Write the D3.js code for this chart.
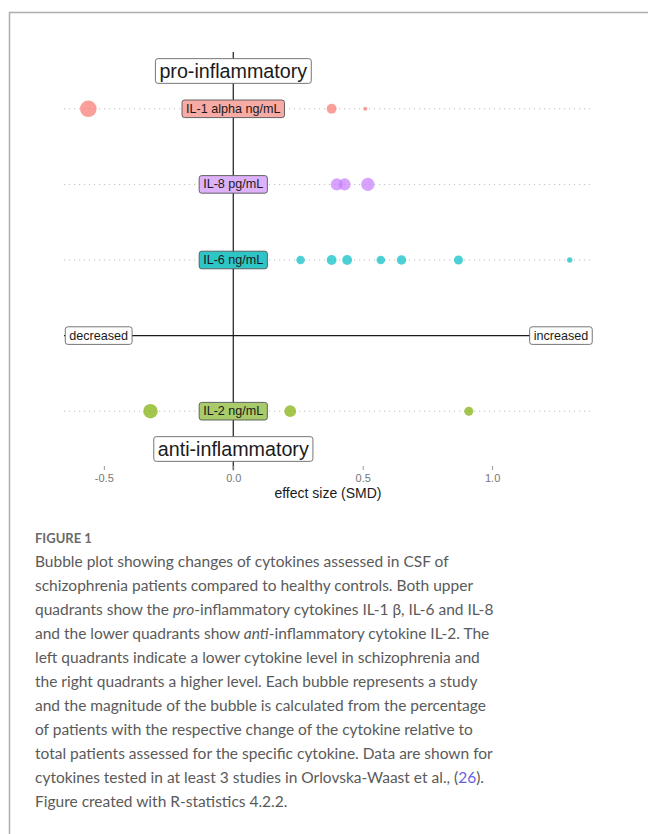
<!DOCTYPE html>
<html>
<head>
<meta charset="utf-8">
<script src="https://cdn.jsdelivr.net/npm/d3@7"></script>
<style>
body { margin: 0; background: #fff; }
svg { display: block; }
</style>
</head>
<body>
<div id="vis"></div>
<script>
// rows of the bubble plot (effect size SMD and bubble magnitude in %)
var cytokines = ["IL-1 alpha ng/mL", "IL-8 pg/mL", "IL-6 ng/mL", "IL-2 ng/mL"];
var rowLevel = [3, 2, 1, -1];
var dotColors = ["#F8766D", "#C77CFF", "#00BFC4", "#7CAE00"];
var labelFills = ["#F8AAA4", "#DDB2FA", "#2EC5C7", "#A9CB6A"];

var il1Smd = [-0.56, 0.38, 0.51];
var il1Pct = [34, 12, 2];
var il8Smd = [0.40, 0.43, 0.52];
var il8Pct = [18, 18, 22];
var il6Smd = [0.26, 0.38, 0.44, 0.57, 0.65, 0.87, 1.30];
var il6Pct = [9, 12, 12, 9, 11, 10, 3.6];
var il2Smd = [-0.32, 0.22, 0.91];
var il2Pct = [26, 17, 10];

var smdSeries = [il1Smd, il8Smd, il6Smd, il2Smd];
var pctSeries = [il1Pct, il8Pct, il6Pct, il2Pct];

var tickValues = [-0.5, 0, 0.5, 1];
var tickLabels = ["-0.5", "0.0", "0.5", "1.0"];

var captionLines = [
	"Bubble plot showing changes of cytokines assessed in CSF of",
	"schizophrenia patients compared to healthy controls. Both upper",
	"quadrants show the |pro|-inflammatory cytokines IL-1 β, IL-6 and IL-8",
	"and the lower quadrants show |anti|-inflammatory cytokine IL-2. The",
	"left quadrants indicate a lower cytokine level in schizophrenia and",
	"the right quadrants a higher level. Each bubble represents a study",
	"and the magnitude of the bubble is calculated from the percentage",
	"of patients with the respective change of the cytokine relative to",
	"total patients assessed for the specific cytokine. Data are shown for",
	"cytokines tested in at least 3 studies in Orlovska-Waast et al., (#26#).",
	"Figure created with R-statistics 4.2.2."
];

var w = 648, h = 834;

var svg = d3.select("#vis")
	.append("svg")
	.attr("width", w)
	.attr("height", h);

// frame of the figure
svg.append("path")
	.attr("d", "M9.5," + h + "V12.5H" + w)
	.attr("fill", "none")
	.attr("stroke", "#adadad")
	.attr("stroke-width", 1.5);

var x = d3.scaleLinear().domain([-0.654, 1.386]).range([64, 592]);
var y = d3.scaleLinear().domain([-1.5, 3.5]).range([449, 71]);
var r = d3.scaleSqrt().domain([0, 40]).range([0, 9]);

var chart = svg.append("g").attr("font-family", "'Liberation Sans', Arial, sans-serif");

// dotted row guides
chart.selectAll("line.grid")
	.data(rowLevel)
	.enter()
	.append("line")
	.attr("class", "grid")
	.attr("x1", x.range()[0])
	.attr("x2", x.range()[1])
	.attr("y1", function(d) { return y(d); })
	.attr("y2", function(d) { return y(d); })
	.attr("stroke", "#bdbdbd")
	.attr("stroke-width", 1)
	.attr("stroke-dasharray", "1.2,3.8");

// zero lines
chart.append("line")
	.attr("x1", x.range()[0]).attr("x2", x.range()[1])
	.attr("y1", y(0)).attr("y2", y(0))
	.attr("stroke", "#1a1a1a").attr("stroke-width", 1.2);

chart.append("line")
	.attr("x1", x(0)).attr("x2", x(0))
	.attr("y1", y(3.75)).attr("y2", y(-1.78))
	.attr("stroke", "#1a1a1a").attr("stroke-width", 1.2);

// bubbles
var bubbles = [];
smdSeries.forEach(function(s, i) {
	s.forEach(function(v, j) {
		bubbles.push({ row: i, smd: v, pct: pctSeries[i][j] });
	});
});

chart.selectAll("circle")
	.data(bubbles)
	.enter()
	.append("circle")
	.attr("cx", function(d) { return x(d.smd); })
	.attr("cy", function(d) { return y(rowLevel[d.row]); })
	.attr("r", function(d) { return r(d.pct); })
	.attr("fill", function(d) { return dotColors[d.row]; })
	.attr("fill-opacity", 0.7);

// boxed label helper (like geom_label)
function boxLabel(cx, cy, txt, size, fill, stroke, padX, padY)
{
	var g = chart.append("g");
	var rect = g.append("rect");
	var t = g.append("text")
		.attr("x", cx)
		.attr("y", cy)
		.attr("text-anchor", "middle")
		.attr("dominant-baseline", "central")
		.attr("font-size", size)
		.attr("fill", "#1a1a1a")
		.text(txt);
	var b = t.node().getBBox();
	rect.attr("x", b.x - padX)
		.attr("y", cy - size * 0.5 - padY)
		.attr("width", b.width + 2 * padX)
		.attr("height", size + 2 * padY)
		.attr("rx", 2.5)
		.attr("fill", fill)
		.attr("stroke", stroke)
		.attr("stroke-width", 0.9);
}

cytokines.forEach(function(c, i) {
	boxLabel(x(0), y(rowLevel[i]), c, 12.6, labelFills[i], "#555", 4, 2.5);
});

boxLabel(x(0), y(3.5), "pro-inflammatory", 19.7, "#fff", "#666", 4, 2.5);
boxLabel(x(0), y(-1.5), "anti-inflammatory", 19.7, "#fff", "#666", 4, 2.5);
boxLabel(x(-0.52), y(0), "decreased", 12.6, "#fff", "#666", 4, 2.5);
boxLabel(x(1.266), y(0), "increased", 12.6, "#fff", "#666", 4, 2.5);

// x axis
var axis = chart.append("g")
	.attr("transform", "translate(0,466)")
	.call(d3.axisBottom(x)
		.tickValues(tickValues)
		.tickSize(4)
		.tickPadding(4)
		.tickFormat(function(d, i) { return tickLabels[i]; }));

axis.select(".domain").remove();
axis.selectAll(".tick line").attr("stroke", "#999");
axis.selectAll(".tick text")
	.attr("font-family", "'Liberation Sans', Arial, sans-serif")
	.attr("font-size", 11)
	.attr("fill", "#777");

chart.append("text")
	.attr("x", (x.range()[0] + x.range()[1]) / 2)
	.attr("y", 498)
	.attr("text-anchor", "middle")
	.attr("font-size", 14)
	.attr("fill", "#1a1a1a")
	.text("effect size (SMD)");

// caption
var cap = svg.append("g").attr("font-family", "Lato, 'Open Sans', sans-serif");

cap.append("text")
	.attr("x", 35)
	.attr("y", 543)
	.attr("font-size", 13)
	.attr("font-weight", 700)
	.attr("fill", "#6a6a6a")
	.text("FIGURE 1");

captionLines.forEach(function(line, i) {
	var t = cap.append("text")
		.attr("x", 35)
		.attr("y", 567 + i * 24)
		.attr("font-size", 15.5)
		.attr("fill", "#5a5a5a");
	// |..| marks italics, #..# marks the reference link
	var parts = line.split(/(\|[^|]+\||#[^#]+#)/);
	parts.forEach(function(p) {
		if (p === "") return;
		var span = t.append("tspan");
		if (p[0] === "|") {
			span.attr("font-style", "italic").text(p.slice(1, -1));
		} else if (p[0] === "#") {
			span.attr("fill", "#6a5fe0").text(p.slice(1, -1));
		} else {
			span.text(p);
		}
	});
});
</script>
</body>
</html>
